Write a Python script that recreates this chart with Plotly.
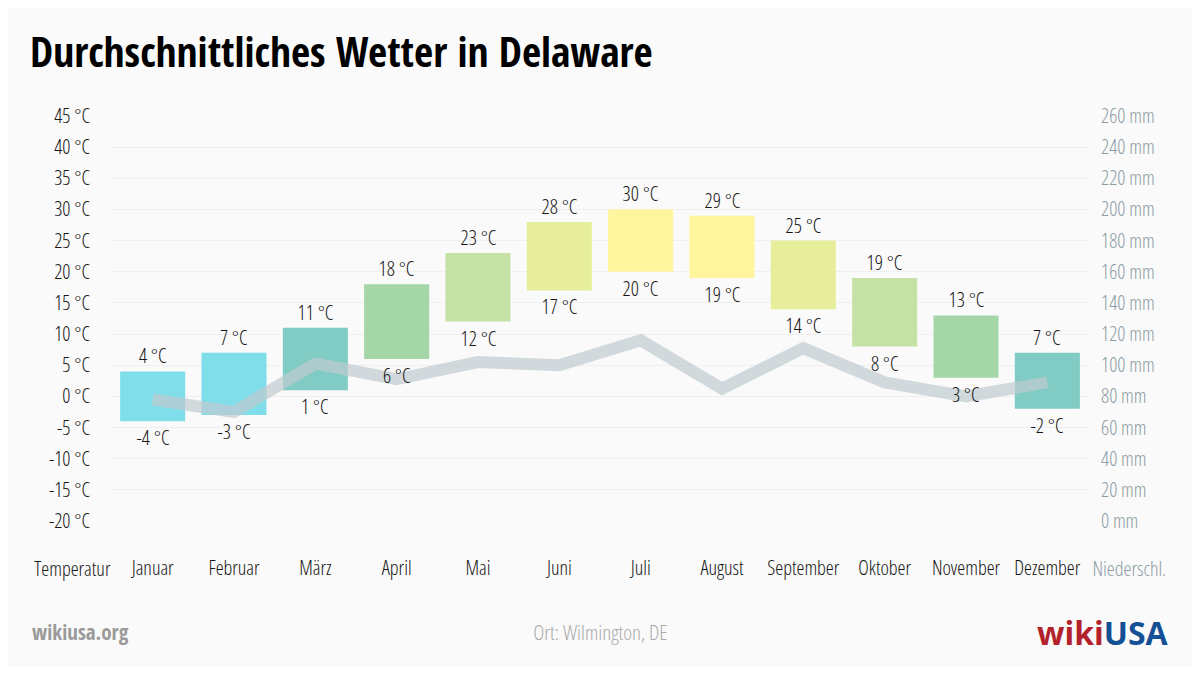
import plotly.graph_objects as go

months = ["Januar", "Februar", "März", "April", "Mai", "Juni", "Juli",
          "August", "September", "Oktober", "November", "Dezember"]
temp_low = [-4, -3, 1, 6, 12, 17, 20, 19, 14, 8, 3, -2]
temp_high = [4, 7, 11, 18, 23, 28, 30, 29, 25, 19, 13, 7]
precip_mm = [78, 70, 101, 91, 102, 100, 116, 85, 111, 89, 80, 89]
bar_colors = ["#80DEEA", "#80DEEA", "#80CBC4", "#A5D6A7", "#C5E1A5", "#E6EE9C",
              "#FFF59D", "#FFF59D", "#E6EE9C", "#C5E1A5", "#A5D6A7", "#80CBC4"]
temp_ticks = list(range(-20, 50, 5))
precip_ticks = list(range(0, 280, 20))

COND = "Open Sans Condensed, Roboto Condensed, sans-serif"
LIGHT = "Open Sans, Roboto Condensed, sans-serif"   # rendered condensed via font-stretch
LW = 350
W, H = 1184, 659          # page body has an 8px margin
L, R, T, B = 104, 104, 108, 146
PW, PH = W - L - R, H - T - B

def px(xp):   # figure px -> paper x
    return (xp - L) / PW

def py(yp):   # figure px -> paper y
    return (H - B - yp) / PH

x = list(range(len(months)))

fig = go.Figure()
fig.add_trace(go.Bar(
    x=x, y=[h - l for h, l in zip(temp_high, temp_low)], base=temp_low,
    marker=dict(color=bar_colors, line=dict(width=0)), width=0.8,
    hoverinfo="skip", showlegend=False))
fig.add_trace(go.Scatter(
    x=x, y=precip_mm, yaxis="y2", mode="lines",
    line=dict(color="rgba(192,202,208,0.7)", width=12),
    hoverinfo="skip", showlegend=False))

lab_font = dict(family=LIGHT, size=20, color="#151515", weight=LW)
grey_font = dict(family=LIGHT, size=20, color="#8c9ca4", weight=LW)
annotations = []
for i in x:
    annotations.append(dict(x=i, y=temp_high[i], xref="x", yref="y",
                            text=f"{temp_high[i]} °C", showarrow=False,
                            yanchor="bottom", yshift=0, font=lab_font))
    annotations.append(dict(x=i, y=temp_low[i], xref="x", yref="y",
                            text=f"{temp_low[i]} °C", showarrow=False,
                            yanchor="top", yshift=-1, font=lab_font))
annotations.append(dict(x=px(64), y=py(560), xref="paper", yref="paper",
                        text="Temperatur", showarrow=False, xanchor="center", yanchor="middle",
                        font=lab_font))
annotations.append(dict(x=px(1121), y=py(560), xref="paper", yref="paper",
                        text="Niederschl.", showarrow=False, xanchor="center", yanchor="middle",
                        font=grey_font))
annotations.append(dict(x=px(22), y=py(624), xref="paper", yref="paper",
                        text="wikiusa.org", showarrow=False, xanchor="left", yanchor="middle",
                        font=dict(family=COND, size=21, color="#9a9a9a", weight=700)))
annotations.append(dict(x=px(592), y=py(624), xref="paper", yref="paper",
                        text="Ort: Wilmington, DE", showarrow=False, xanchor="center", yanchor="middle",
                        font=dict(family=LIGHT, size=21, color="#aaaaaa", weight=LW)))
annotations.append(dict(x=px(1163), y=py(624), xref="paper", yref="paper",
                        text="<span style='color:#b3212b'>wiki</span><span style='color:#154f94'>USA</span>",
                        showarrow=False, xanchor="right", yanchor="middle",
                        font=dict(family="Open Sans, sans-serif", size=32, weight=700)))

fig.update_layout(
    width=W, height=H,
    margin=dict(l=L, r=R, t=T, b=B),
    paper_bgcolor="#fafafa", plot_bgcolor="#fafafa",
    title=dict(text="Durchschnittliches Wetter in Delaware",
               x=22 / W, xref="container", xanchor="left",
               y=1 - 44 / H, yref="container", yanchor="middle",
               font=dict(family=COND, size=41.5, color="#000", weight=700)),
    xaxis=dict(range=[-0.5, 11.5], tickmode="array", tickvals=x, ticktext=months,
               showgrid=False, zeroline=False, showline=False, ticks="",
               ticklabelstandoff=33, tickangle=0,
               tickfont=lab_font),
    yaxis=dict(range=[-20, 45], tickmode="array", tickvals=temp_ticks,
               ticktext=[f"{t} °C" for t in temp_ticks],
               showgrid=True, gridcolor="#efefef", gridwidth=1, zeroline=False,
               showline=False, ticks="", ticklabelstandoff=21,
               tickfont=lab_font),
    yaxis2=dict(range=[0, 260], overlaying="y", side="right", tickmode="array",
                tickvals=precip_ticks, ticktext=[f"{t} mm" for t in precip_ticks],
                showgrid=False, zeroline=False, showline=False, ticks="",
                ticklabelstandoff=12,
                tickfont=grey_font),
    annotations=annotations,
)

# Open Sans is a variable font: render the label texts in its condensed width
post = """
var st = document.createElement('style');
st.textContent = '.main-svg text[style*="font-weight: 350"] { font-stretch: 75%; }';
document.head.appendChild(st);
"""
fig.write_html("out.html", post_script=post)
